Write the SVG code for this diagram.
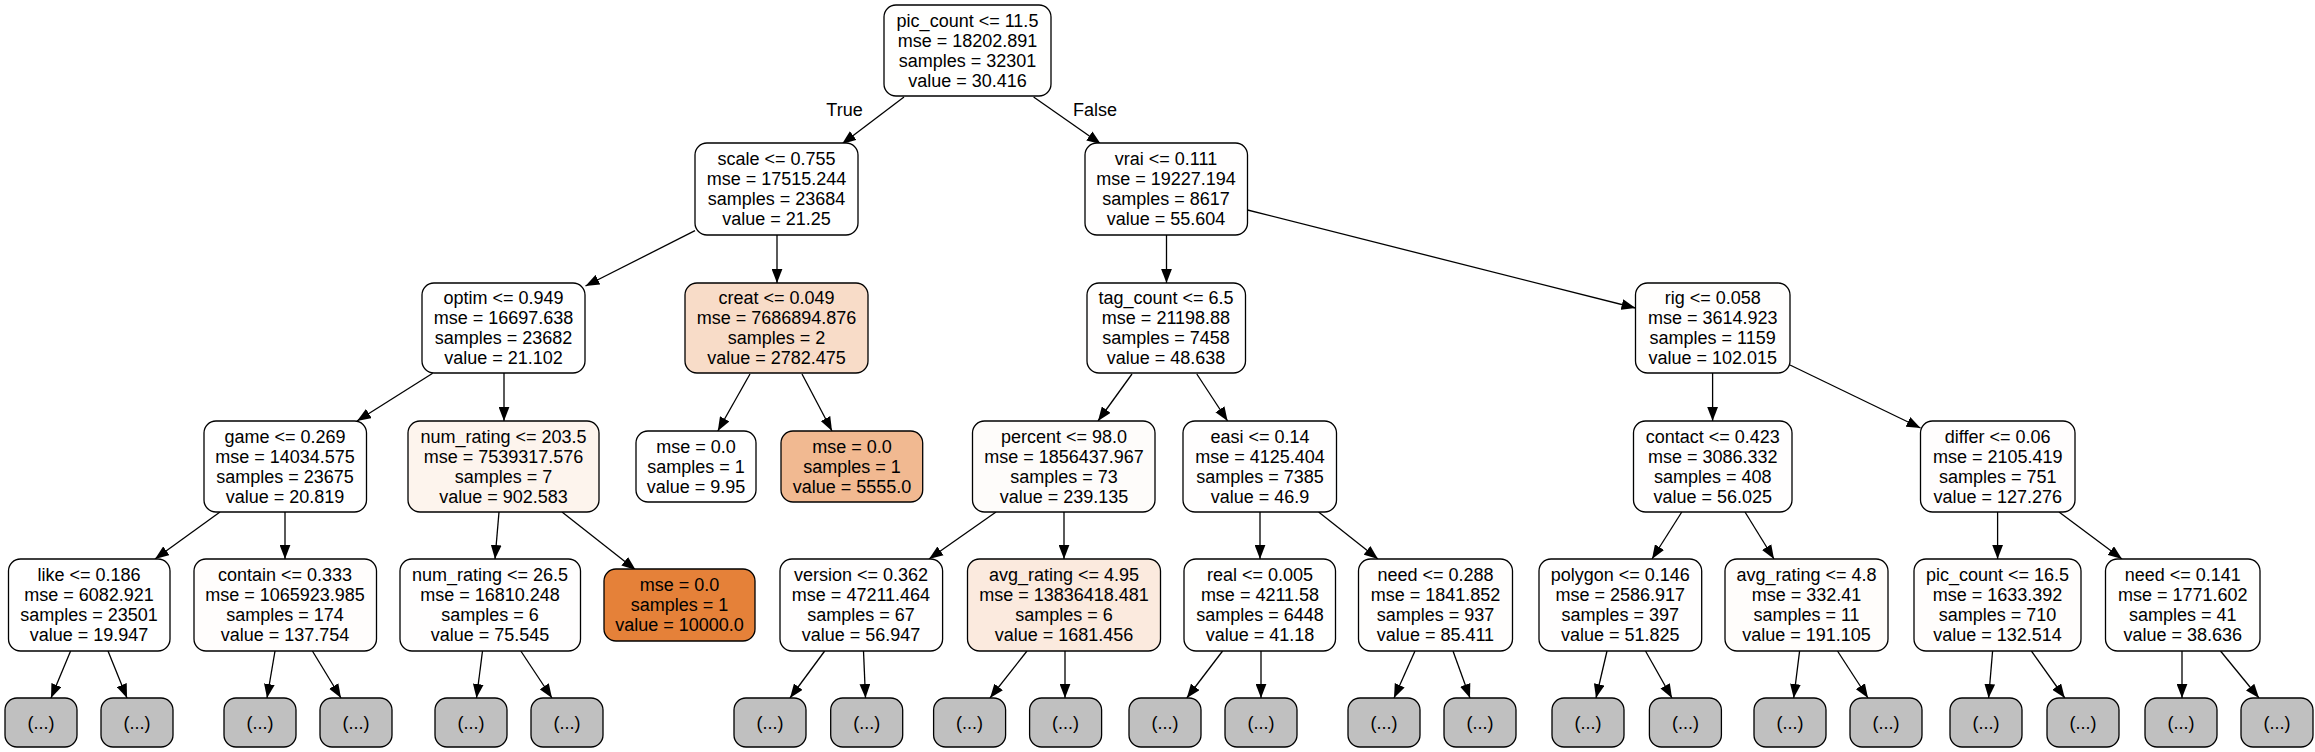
<svg xmlns="http://www.w3.org/2000/svg" width="2315" height="752" viewBox="0 0 2315 752">
<style>
.n{stroke:#000;stroke-width:1.3}
.e{stroke:#000;stroke-width:1.3;fill:none}
text{font-family:"Liberation Sans",Arial,Helvetica,sans-serif;font-size:18px;fill:#000;text-anchor:middle}
.g{fill:#c0c0c0}
</style>
<defs>
<marker id="ah" markerUnits="userSpaceOnUse" markerWidth="14" markerHeight="11" viewBox="0 0 13 10" refX="13" refY="5" orient="auto">
<path d="M0,0 L13,5 L0,10 z" fill="#000"/>
</marker>
</defs>
<rect width="2315" height="752" fill="#fff"/>
<g id="connectors">
<line class="e" marker-end="url(#ah)" x1="904" y1="97" x2="842" y2="144"/>
<line class="e" marker-end="url(#ah)" x1="1033.6" y1="97" x2="1100.8" y2="144"/>
<line class="e" marker-end="url(#ah)" x1="695" y1="230.7" x2="585.5" y2="286"/>
<line class="e" marker-end="url(#ah)" x1="777" y1="235" x2="777" y2="283"/>
<line class="e" marker-end="url(#ah)" x1="1166.5" y1="235" x2="1166.5" y2="283"/>
<line class="e" marker-end="url(#ah)" x1="1247.5" y1="210" x2="1635.5" y2="308"/>
<line class="e" marker-end="url(#ah)" x1="432.7" y1="373.3" x2="357" y2="421"/>
<line class="e" marker-end="url(#ah)" x1="504" y1="373" x2="504" y2="421"/>
<line class="e" marker-end="url(#ah)" x1="750" y1="374" x2="717.8" y2="431"/>
<line class="e" marker-end="url(#ah)" x1="802" y1="374" x2="832" y2="431"/>
<line class="e" marker-end="url(#ah)" x1="1132" y1="374" x2="1098" y2="421"/>
<line class="e" marker-end="url(#ah)" x1="1196.8" y1="374" x2="1227.6" y2="421"/>
<line class="e" marker-end="url(#ah)" x1="1712.6" y1="373" x2="1712.6" y2="421"/>
<line class="e" marker-end="url(#ah)" x1="1790" y1="365" x2="1920.5" y2="428"/>
<line class="e" marker-end="url(#ah)" x1="220" y1="512" x2="155" y2="559"/>
<line class="e" marker-end="url(#ah)" x1="285" y1="512" x2="285" y2="559"/>
<line class="e" marker-end="url(#ah)" x1="499" y1="512" x2="495" y2="559"/>
<line class="e" marker-end="url(#ah)" x1="562" y1="512" x2="635.7" y2="570"/>
<line class="e" marker-end="url(#ah)" x1="996" y1="512" x2="929" y2="559"/>
<line class="e" marker-end="url(#ah)" x1="1064" y1="512" x2="1064" y2="559"/>
<line class="e" marker-end="url(#ah)" x1="1260" y1="512" x2="1260" y2="559"/>
<line class="e" marker-end="url(#ah)" x1="1318.6" y1="512" x2="1378" y2="559"/>
<line class="e" marker-end="url(#ah)" x1="1681.8" y1="512" x2="1652" y2="559"/>
<line class="e" marker-end="url(#ah)" x1="1745" y1="512" x2="1774" y2="559"/>
<line class="e" marker-end="url(#ah)" x1="1997.6" y1="512" x2="1997.6" y2="559"/>
<line class="e" marker-end="url(#ah)" x1="2059" y1="512" x2="2122" y2="559"/>
<line class="e" marker-end="url(#ah)" x1="70.6" y1="651" x2="51" y2="698"/>
<line class="e" marker-end="url(#ah)" x1="108" y1="651" x2="127" y2="698"/>
<line class="e" marker-end="url(#ah)" x1="275" y1="651" x2="267" y2="698"/>
<line class="e" marker-end="url(#ah)" x1="312.4" y1="651" x2="341" y2="698"/>
<line class="e" marker-end="url(#ah)" x1="482.5" y1="651" x2="476.5" y2="698"/>
<line class="e" marker-end="url(#ah)" x1="520.8" y1="651" x2="552" y2="698"/>
<line class="e" marker-end="url(#ah)" x1="824.7" y1="651" x2="790" y2="698"/>
<line class="e" marker-end="url(#ah)" x1="863.5" y1="651" x2="865.5" y2="698"/>
<line class="e" marker-end="url(#ah)" x1="1027" y1="651" x2="990" y2="698"/>
<line class="e" marker-end="url(#ah)" x1="1065" y1="651" x2="1065" y2="698"/>
<line class="e" marker-end="url(#ah)" x1="1222.6" y1="651" x2="1186.8" y2="698"/>
<line class="e" marker-end="url(#ah)" x1="1261" y1="651" x2="1261" y2="698"/>
<line class="e" marker-end="url(#ah)" x1="1415" y1="651" x2="1394" y2="698"/>
<line class="e" marker-end="url(#ah)" x1="1453" y1="651" x2="1470" y2="698"/>
<line class="e" marker-end="url(#ah)" x1="1607" y1="651" x2="1596" y2="698"/>
<line class="e" marker-end="url(#ah)" x1="1645.5" y1="651" x2="1672" y2="698"/>
<line class="e" marker-end="url(#ah)" x1="1799.6" y1="651" x2="1793.7" y2="698"/>
<line class="e" marker-end="url(#ah)" x1="1837.5" y1="651" x2="1868" y2="698"/>
<line class="e" marker-end="url(#ah)" x1="1992.6" y1="651" x2="1988.6" y2="698"/>
<line class="e" marker-end="url(#ah)" x1="2031.4" y1="651" x2="2064.8" y2="698"/>
<line class="e" marker-end="url(#ah)" x1="2182" y1="651" x2="2182" y2="698"/>
<line class="e" marker-end="url(#ah)" x1="2220.5" y1="651" x2="2259" y2="698"/>
<text x="844.5" y="116">True</text>
<text x="1095" y="116">False</text>
</g>
<g id="n0"><rect class="n" x="884" y="5" width="167" height="91" rx="12" fill="#fffffe"/><text x="967.5" y="27">pic_count &lt;= 11.5</text><text x="967.5" y="47">mse = 18202.891</text><text x="967.5" y="67">samples = 32301</text><text x="967.5" y="87">value = 30.416</text></g>
<g id="n1"><rect class="n" x="695" y="143" width="163" height="92" rx="12" fill="#ffffff"/><text x="776.5" y="165">scale &lt;= 0.755</text><text x="776.5" y="185">mse = 17515.244</text><text x="776.5" y="205">samples = 23684</text><text x="776.5" y="225">value = 21.25</text></g>
<g id="n2"><rect class="n" x="1085" y="143" width="162.5" height="92" rx="12" fill="#fffefe"/><text x="1166" y="165">vrai &lt;= 0.111</text><text x="1166" y="185">mse = 19227.194</text><text x="1166" y="205">samples = 8617</text><text x="1166" y="225">value = 55.604</text></g>
<g id="n3"><rect class="n" x="422" y="283" width="163" height="90" rx="12" fill="#ffffff"/><text x="503.5" y="304">optim &lt;= 0.949</text><text x="503.5" y="324">mse = 16697.638</text><text x="503.5" y="344">samples = 23682</text><text x="503.5" y="364">value = 21.102</text></g>
<g id="n4"><rect class="n" x="685" y="283" width="183" height="90" rx="12" fill="#f8dcc8"/><text x="776.5" y="304">creat &lt;= 0.049</text><text x="776.5" y="324">mse = 7686894.876</text><text x="776.5" y="344">samples = 2</text><text x="776.5" y="364">value = 2782.475</text></g>
<g id="n5"><rect class="n" x="1087" y="283" width="158.5" height="90" rx="12" fill="#fffefe"/><text x="1166" y="304">tag_count &lt;= 6.5</text><text x="1166" y="324">mse = 21198.88</text><text x="1166" y="344">samples = 7458</text><text x="1166" y="364">value = 48.638</text></g>
<g id="n6"><rect class="n" x="1635.5" y="283" width="154.5" height="90" rx="12" fill="#fffefd"/><text x="1712.7" y="304">rig &lt;= 0.058</text><text x="1712.7" y="324">mse = 3614.923</text><text x="1712.7" y="344">samples = 1159</text><text x="1712.7" y="364">value = 102.015</text></g>
<g id="n7"><rect class="n" x="204" y="421" width="162.5" height="91" rx="12" fill="#ffffff"/><text x="285" y="443">game &lt;= 0.269</text><text x="285" y="463">mse = 14034.575</text><text x="285" y="483">samples = 23675</text><text x="285" y="503">value = 20.819</text></g>
<g id="n8"><rect class="n" x="408" y="421" width="191" height="91" rx="12" fill="#fdf4ed"/><text x="503.5" y="443">num_rating &lt;= 203.5</text><text x="503.5" y="463">mse = 7539317.576</text><text x="503.5" y="483">samples = 7</text><text x="503.5" y="503">value = 902.583</text></g>
<g id="n9"><rect class="n" x="636" y="431" width="120" height="71" rx="12" fill="#ffffff"/><text x="696" y="453">mse = 0.0</text><text x="696" y="473">samples = 1</text><text x="696" y="493">value = 9.95</text></g>
<g id="n10"><rect class="n" x="781" y="431" width="141.7" height="71" rx="12" fill="#f1b991"/><text x="852" y="453">mse = 0.0</text><text x="852" y="473">samples = 1</text><text x="852" y="493">value = 5555.0</text></g>
<g id="n11"><rect class="n" x="972.5" y="421" width="182.5" height="91" rx="12" fill="#fefcfa"/><text x="1064" y="443">percent &lt;= 98.0</text><text x="1064" y="463">mse = 1856437.967</text><text x="1064" y="483">samples = 73</text><text x="1064" y="503">value = 239.135</text></g>
<g id="n12"><rect class="n" x="1183" y="421" width="153.5" height="91" rx="12" fill="#fffefe"/><text x="1260" y="443">easi &lt;= 0.14</text><text x="1260" y="463">mse = 4125.404</text><text x="1260" y="483">samples = 7385</text><text x="1260" y="503">value = 46.9</text></g>
<g id="n13"><rect class="n" x="1633.5" y="421" width="158.5" height="91" rx="12" fill="#fffefe"/><text x="1712.7" y="443">contact &lt;= 0.423</text><text x="1712.7" y="463">mse = 3086.332</text><text x="1712.7" y="483">samples = 408</text><text x="1712.7" y="503">value = 56.025</text></g>
<g id="n14"><rect class="n" x="1920.5" y="421" width="154.5" height="91" rx="12" fill="#fffdfd"/><text x="1997.7" y="443">differ &lt;= 0.06</text><text x="1997.7" y="463">mse = 2105.419</text><text x="1997.7" y="483">samples = 751</text><text x="1997.7" y="503">value = 127.276</text></g>
<g id="n15"><rect class="n" x="8.5" y="559" width="161.5" height="92" rx="12" fill="#ffffff"/><text x="89" y="581">like &lt;= 0.186</text><text x="89" y="601">mse = 6082.921</text><text x="89" y="621">samples = 23501</text><text x="89" y="641">value = 19.947</text></g>
<g id="n16"><rect class="n" x="194" y="559" width="182.5" height="92" rx="12" fill="#fffdfc"/><text x="285" y="581">contain &lt;= 0.333</text><text x="285" y="601">mse = 1065923.985</text><text x="285" y="621">samples = 174</text><text x="285" y="641">value = 137.754</text></g>
<g id="n17"><rect class="n" x="400" y="559" width="180.5" height="92" rx="12" fill="#fffefe"/><text x="490" y="581">num_rating &lt;= 26.5</text><text x="490" y="601">mse = 16810.248</text><text x="490" y="621">samples = 6</text><text x="490" y="641">value = 75.545</text></g>
<g id="n18"><rect class="n" x="604" y="569" width="151" height="72" rx="12" fill="#e58139"/><text x="679.5" y="591">mse = 0.0</text><text x="679.5" y="611">samples = 1</text><text x="679.5" y="631">value = 10000.0</text></g>
<g id="n19"><rect class="n" x="780" y="559" width="162.6" height="92" rx="12" fill="#fffefe"/><text x="861" y="581">version &lt;= 0.362</text><text x="861" y="601">mse = 47211.464</text><text x="861" y="621">samples = 67</text><text x="861" y="641">value = 56.947</text></g>
<g id="n20"><rect class="n" x="967.5" y="559" width="193" height="92" rx="12" fill="#fbeade"/><text x="1064" y="581">avg_rating &lt;= 4.95</text><text x="1064" y="601">mse = 13836418.481</text><text x="1064" y="621">samples = 6</text><text x="1064" y="641">value = 1681.456</text></g>
<g id="n21"><rect class="n" x="1184" y="559" width="151.5" height="92" rx="12" fill="#fffffe"/><text x="1260" y="581">real &lt;= 0.005</text><text x="1260" y="601">mse = 4211.58</text><text x="1260" y="621">samples = 6448</text><text x="1260" y="641">value = 41.18</text></g>
<g id="n22"><rect class="n" x="1358.5" y="559" width="154" height="92" rx="12" fill="#fffefd"/><text x="1435.5" y="581">need &lt;= 0.288</text><text x="1435.5" y="601">mse = 1841.852</text><text x="1435.5" y="621">samples = 937</text><text x="1435.5" y="641">value = 85.411</text></g>
<g id="n23"><rect class="n" x="1539" y="559" width="162.7" height="92" rx="12" fill="#fffefe"/><text x="1620.3" y="581">polygon &lt;= 0.146</text><text x="1620.3" y="601">mse = 2586.917</text><text x="1620.3" y="621">samples = 397</text><text x="1620.3" y="641">value = 51.825</text></g>
<g id="n24"><rect class="n" x="1725" y="559" width="163" height="92" rx="12" fill="#fffdfb"/><text x="1806.5" y="581">avg_rating &lt;= 4.8</text><text x="1806.5" y="601">mse = 332.41</text><text x="1806.5" y="621">samples = 11</text><text x="1806.5" y="641">value = 191.105</text></g>
<g id="n25"><rect class="n" x="1914" y="559" width="167" height="92" rx="12" fill="#fffdfc"/><text x="1997.5" y="581">pic_count &lt;= 16.5</text><text x="1997.5" y="601">mse = 1633.392</text><text x="1997.5" y="621">samples = 710</text><text x="1997.5" y="641">value = 132.514</text></g>
<g id="n26"><rect class="n" x="2105.5" y="559" width="154.5" height="92" rx="12" fill="#fffffe"/><text x="2182.7" y="581">need &lt;= 0.141</text><text x="2182.7" y="601">mse = 1771.602</text><text x="2182.7" y="621">samples = 41</text><text x="2182.7" y="641">value = 38.636</text></g>
<g id="x1"><rect class="n g" x="5" y="698" width="72" height="49" rx="12"/><text x="41" y="729">(...)</text></g>
<g id="x2"><rect class="n g" x="101" y="698" width="72" height="49" rx="12"/><text x="137" y="729">(...)</text></g>
<g id="x3"><rect class="n g" x="224" y="698" width="72" height="49" rx="12"/><text x="260" y="729">(...)</text></g>
<g id="x4"><rect class="n g" x="320" y="698" width="72" height="49" rx="12"/><text x="356" y="729">(...)</text></g>
<g id="x5"><rect class="n g" x="435" y="698" width="72" height="49" rx="12"/><text x="471" y="729">(...)</text></g>
<g id="x6"><rect class="n g" x="531" y="698" width="72" height="49" rx="12"/><text x="567" y="729">(...)</text></g>
<g id="x7"><rect class="n g" x="734" y="698" width="72" height="49" rx="12"/><text x="770" y="729">(...)</text></g>
<g id="x8"><rect class="n g" x="830.7" y="698" width="72" height="49" rx="12"/><text x="866.7" y="729">(...)</text></g>
<g id="x9"><rect class="n g" x="933.6" y="698" width="72" height="49" rx="12"/><text x="969.6" y="729">(...)</text></g>
<g id="x10"><rect class="n g" x="1029.6" y="698" width="72" height="49" rx="12"/><text x="1065.6" y="729">(...)</text></g>
<g id="x11"><rect class="n g" x="1129" y="698" width="72" height="49" rx="12"/><text x="1165" y="729">(...)</text></g>
<g id="x12"><rect class="n g" x="1225" y="698" width="72" height="49" rx="12"/><text x="1261" y="729">(...)</text></g>
<g id="x13"><rect class="n g" x="1348" y="698" width="72" height="49" rx="12"/><text x="1384" y="729">(...)</text></g>
<g id="x14"><rect class="n g" x="1444" y="698" width="72" height="49" rx="12"/><text x="1480" y="729">(...)</text></g>
<g id="x15"><rect class="n g" x="1552" y="698" width="72" height="49" rx="12"/><text x="1588" y="729">(...)</text></g>
<g id="x16"><rect class="n g" x="1649.4" y="698" width="72" height="49" rx="12"/><text x="1685.4" y="729">(...)</text></g>
<g id="x17"><rect class="n g" x="1754" y="698" width="72" height="49" rx="12"/><text x="1790" y="729">(...)</text></g>
<g id="x18"><rect class="n g" x="1850" y="698" width="72" height="49" rx="12"/><text x="1886" y="729">(...)</text></g>
<g id="x19"><rect class="n g" x="1950" y="698" width="72" height="49" rx="12"/><text x="1986" y="729">(...)</text></g>
<g id="x20"><rect class="n g" x="2047" y="698" width="72" height="49" rx="12"/><text x="2083" y="729">(...)</text></g>
<g id="x21"><rect class="n g" x="2145" y="698" width="72" height="49" rx="12"/><text x="2181" y="729">(...)</text></g>
<g id="x22"><rect class="n g" x="2241" y="698" width="72" height="49" rx="12"/><text x="2277" y="729">(...)</text></g>
</svg>
